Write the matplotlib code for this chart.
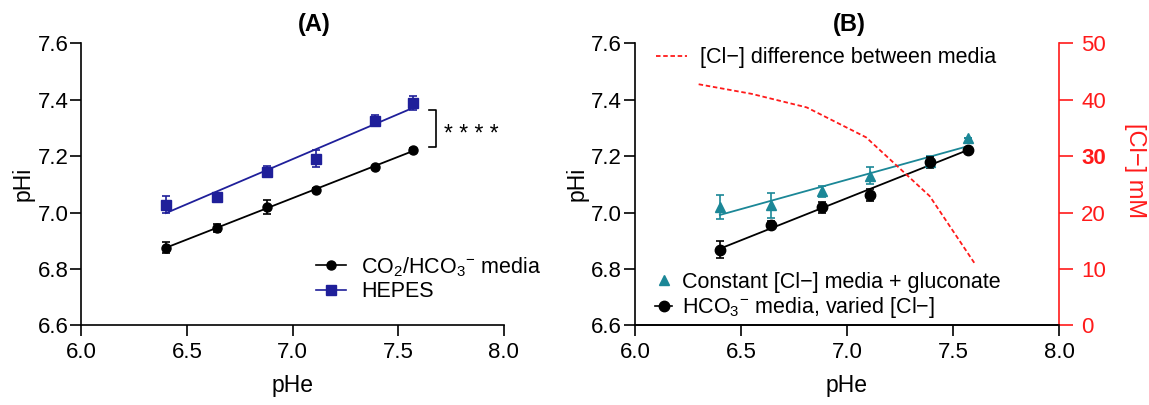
import numpy as np
import matplotlib
matplotlib.use("Agg")
import matplotlib.pyplot as plt

plt.rcParams['font.family'] = ['Liberation Sans', 'DejaVu Sans']
plt.rcParams['mathtext.fontset'] = 'custom'
plt.rcParams['mathtext.rm'] = 'Liberation Sans'
plt.rcParams['mathtext.it'] = 'Liberation Sans'
plt.rcParams['axes.linewidth'] = 1.2

# data
phe = [6.40, 6.64, 6.88, 7.11, 7.39, 7.57]

# panel A
co2_phi = [6.875, 6.945, 7.020, 7.080, 7.160, 7.222]
co2_err = [0.020, 0.015, 0.025, 0.006, 0.006, 0.006]
hepes_phi = [7.028, 7.055, 7.145, 7.190, 7.325, 7.387]
hepes_err = [0.030, 0.010, 0.020, 0.030, 0.020, 0.025]

# panel B
gluc_phi = [7.020, 7.025, 7.075, 7.130, 7.180, 7.265]
gluc_err = [0.043, 0.045, 0.020, 0.030, 0.020, 0.000]
varcl_phi = [6.868, 6.955, 7.018, 7.062, 7.178, 7.222]
varcl_err = [0.030, 0.015, 0.020, 0.020, 0.020, 0.000]
cl_phe = [6.30, 6.55, 6.81, 7.09, 7.39, 7.60]
cl_diff = [42.7, 41.0, 38.6, 33.3, 22.9, 11.1]

xticks = [6.0, 6.5, 7.0, 7.5, 8.0]
yticks = [6.6, 6.8, 7.0, 7.2, 7.4, 7.6]
cl_ticks = [0, 10, 20, 30, 40, 50]

navy = '#1f1f9a'
teal = '#1b8797'
red = '#ff1a1a'
FS_TICK = 16
FS_LAB = 16.5
FS_LEG = 15.5

fig = plt.figure(figsize=(11.49, 4.05), dpi=100)
axA = fig.add_axes([0.0709, 0.1963, 0.3675, 0.6975])
axB = fig.add_axes([0.5527, 0.1963, 0.3690, 0.6975])


def fit(ax, x, y, color):
    k, b = np.polyfit(x, y, 1)
    xx = np.array([min(x), max(x)])
    ax.plot(xx, k * xx + b, color=color, lw=1.3, zorder=2)


def style(ax):
    ax.set_xlim(6.0, 8.0)
    ax.set_ylim(6.6, 7.6)
    ax.set_xticks(xticks)
    ax.set_yticks(yticks)
    ax.set_xticklabels([f'{t:.1f}' for t in xticks])
    ax.set_yticklabels([f'{t:.1f}' for t in yticks])
    ax.spines['top'].set_visible(False)
    ax.spines['right'].set_visible(False)
    ax.tick_params(direction='out', length=8, width=1.2, labelsize=FS_TICK)
    ax.tick_params(axis='x', pad=4)
    ax.tick_params(axis='y', pad=1.5)
    ax.set_xlabel('pHe', fontsize=FS_LAB, labelpad=8)
    ax.set_ylabel('pHi', fontsize=FS_LAB, labelpad=2)


# ---- (A)
fit(axA, phe, co2_phi, 'black')
fit(axA, phe, hepes_phi, navy)
axA.errorbar(phe, co2_phi, yerr=co2_err, fmt='o', color='black', ms=6.5,
             capsize=3, elinewidth=1.2, capthick=1.2, zorder=3)
axA.errorbar(phe, hepes_phi, yerr=hepes_err, fmt='s', color=navy, ms=6.5,
             capsize=3, elinewidth=1.2, capthick=1.2, zorder=3)
style(axA)
axA.text(0.551, 1.067, '(A)', transform=axA.transAxes, fontsize=17,
         fontweight='bold', ha='center', va='center')

# significance bracket
axA.plot([7.645, 7.68, 7.68, 7.645], [7.363, 7.363, 7.233, 7.233],
         color='black', lw=1.2, clip_on=False)
axA.text(7.715, 7.253, '* * * *', fontsize=16.5, va='baseline', ha='left')

hA1, = axA.plot([], [], '-o', color='black', ms=6.5, lw=1.2)
hA2, = axA.plot([], [], '-s', color=navy, ms=6.5, lw=1.2)
axA.legend([hA1, hA2], [r'CO$_2$/HCO$_3{}^{-}$ media', 'HEPES'],
           loc='center left', bbox_to_anchor=(0.275, 0.3123), bbox_transform=fig.transFigure,
           frameon=False, fontsize=FS_LEG, handlelength=1.4, handletextpad=0.7,
           labelspacing=0.12, borderaxespad=0, borderpad=0)

# ---- (B)
fit(axB, phe, gluc_phi, teal)
fit(axB, phe, varcl_phi, 'black')
axB.errorbar(phe, gluc_phi, yerr=gluc_err, fmt='^', color=teal, ms=6.5,
             capsize=3, elinewidth=1.2, capthick=1.2, zorder=3)
axB.errorbar(phe, varcl_phi, yerr=varcl_err, fmt='o', color='black', ms=7.5,
             capsize=3, elinewidth=1.2, capthick=1.2, zorder=3)
style(axB)
axB.text(0.505, 1.067, '(B)', transform=axB.transAxes, fontsize=17,
         fontweight='bold', ha='center', va='center')

axR = axB.twinx()
axR.plot(cl_phe, cl_diff, color=red, ls=(0, (2.5, 1.5)), lw=1.3)
axR.set_ylim(0, 50)
axR.set_yticks(cl_ticks)
axR.spines['top'].set_visible(False)
axR.spines['left'].set_visible(False)
axR.spines['right'].set_color(red)
axR.spines['right'].set_linewidth(1.2)
axR.tick_params(axis='y', colors=red, direction='out', length=10, width=1.2,
                labelsize=FS_TICK, pad=6)
for lab in axR.get_yticklabels():
    if lab.get_text() == '30':
        lab.set_fontweight('bold')
axR.set_ylabel('[Cl−] mM', color=red, fontsize=17, rotation=270)
axR.yaxis.label.set_verticalalignment('center')
axR.yaxis.set_label_coords(1.179, 0.55)

hB0, = axR.plot([], [], color=red, ls=(0, (2.5, 1.5)), lw=1.3)
axR.legend([hB0], ['[Cl−] difference between media'], loc='center left',
           bbox_to_anchor=(0.5705, 0.857), bbox_transform=fig.transFigure,
           frameon=False, fontsize=FS_LEG, handlelength=1.46, handletextpad=0.6,
           borderaxespad=0, borderpad=0)

hB1, = axB.plot([], [], '^', color=teal, ms=6.5, ls='none')
hB2, = axB.plot([], [], '-o', color='black', ms=7.5, lw=1.2)
axB.legend([hB1, hB2], ['Constant [Cl−] media + gluconate', r'HCO$_3{}^{-}$ media, varied [Cl−]'],
           loc='center left', bbox_to_anchor=(0.570, 0.2691), bbox_transform=fig.transFigure,
           frameon=False, fontsize=FS_LEG, handlelength=0.8, handletextpad=0.45,
           labelspacing=0.12, borderaxespad=0, borderpad=0)

fig.savefig('out.png', dpi=100)
